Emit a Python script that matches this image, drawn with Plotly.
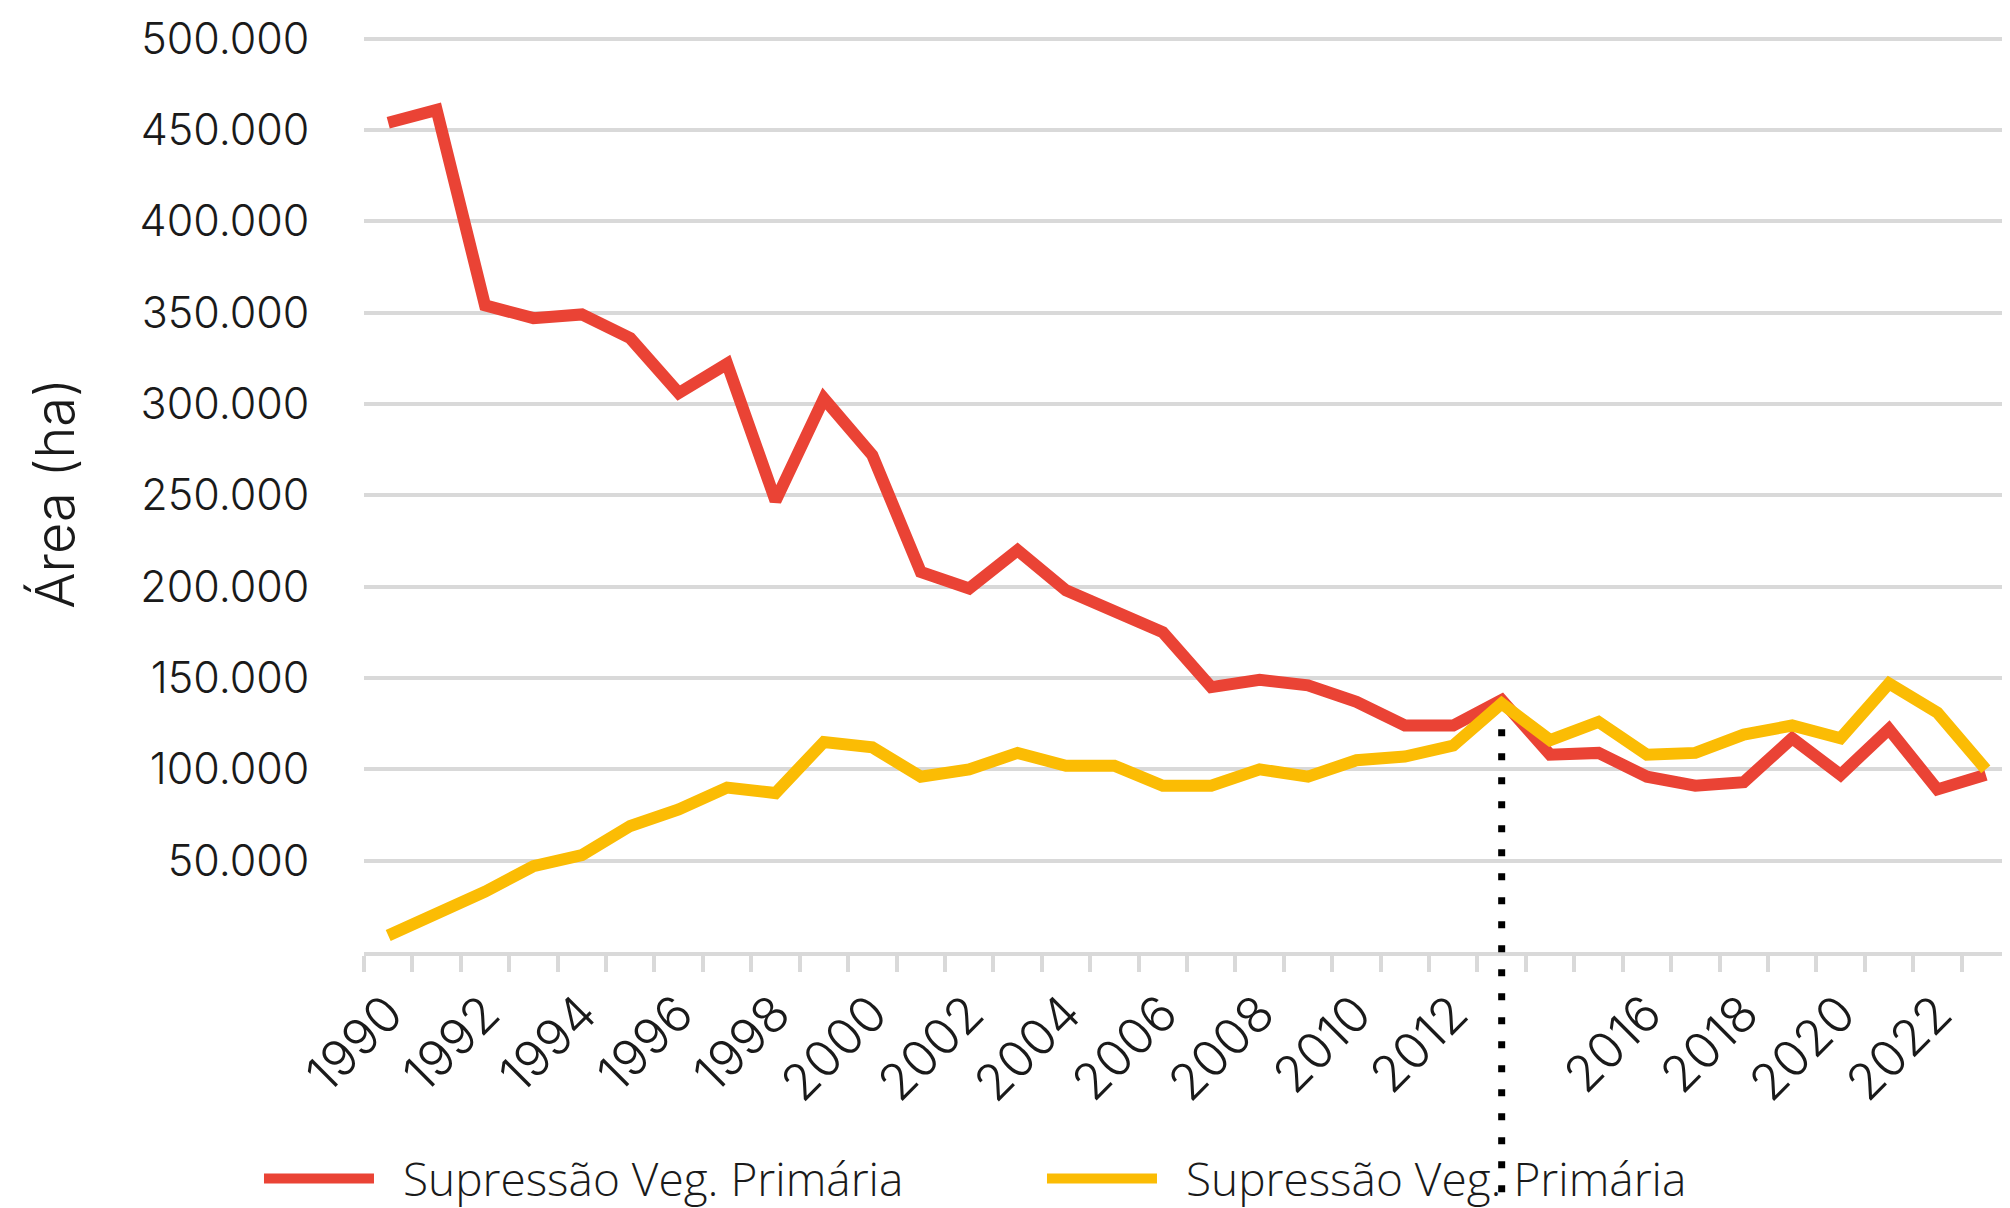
import plotly.graph_objects as go

years = list(range(1990, 2024))
supressao_primaria = [454, 461, 354, 347, 349, 336, 306, 322, 247, 303, 272, 208, 199, 220,
                      198, 186, 175, 145, 149, 146, 137, 124, 124, 138, 108, 109, 96, 91, 93,
                      117, 97, 122, 89, 97]
supressao_secundaria = [9, 21, 33, 47, 53, 69, 78, 90, 87, 115, 112, 96, 100, 109, 102, 102,
                        91, 91, 100, 96, 105, 107, 113, 136, 116, 126, 108, 109, 119, 124,
                        117, 147, 131, 100]
legend_names = ["Supressão Veg. Primária", "Supressão Veg. Primária"]
x_tick_years = [1990, 1992, 1994, 1996, 1998, 2000, 2002, 2004, 2006, 2008, 2010, 2012,
                2016, 2018, 2020, 2022]
y_ticks = [50000, 100000, 150000, 200000, 250000, 300000, 350000, 400000, 450000, 500000]
marker_year = 2013
marker_top = 122000
Y_MAX = 502000

red_vals = [v * 1000 for v in supressao_primaria]
yel_vals = [v * 1000 for v in supressao_secundaria]

RED = "#EA4335"
YEL = "#FBBC04"
GRID = "#D9D9D9"
TXT = "#1A1A1A"
FONT = "Inter"
PAD = "\u00a0\u00a0"

fig = go.Figure()
fig.add_trace(go.Scatter(x=years, y=red_vals, mode="lines", name=PAD + legend_names[0],
                         line=dict(color=RED, width=12)))
fig.add_trace(go.Scatter(x=years, y=yel_vals, mode="lines", name=PAD + legend_names[1],
                         line=dict(color=YEL, width=12)))

fig.add_shape(type="line", xref="x", yref="paper",
              x0=marker_year, x1=marker_year, y0=marker_top / Y_MAX, y1=-0.4,
              line=dict(color="black", width=7, dash="7px,17px"), layer="above")

fig.update_layout(
    width=2002, height=1200,
    margin=dict(l=356, r=0, t=27, b=256, autoexpand=False),
    paper_bgcolor="white", plot_bgcolor="white",
    separators=",.",
    font=dict(family=FONT, color=TXT, size=40, weight=300),
    showlegend=True,
    legend=dict(orientation="h", x=-0.0638, y=-0.2470, xanchor="left", yanchor="middle",
                font=dict(family="Open Sans", size=46, color=TXT, weight=300),
                itemwidth=110, entrywidth=658, entrywidthmode="pixels",
                bgcolor="rgba(0,0,0,0)"),
)

fig.update_xaxes(
    range=[1989.5, 2023.5],
    tickmode="array", tickvals=x_tick_years, ticktext=[str(y) for y in x_tick_years],
    tickangle=-45, ticks="outside", ticklen=8, tickcolor="rgba(0,0,0,0)",
    tickfont=dict(family=FONT, size=50, color=TXT, weight=300),
    showgrid=False, zeroline=False,
    showline=True, linecolor=GRID, linewidth=4,
    minor=dict(tickmode="linear", tick0=1989.5, dtick=1, ticks="outside",
               ticklen=16, tickwidth=4, tickcolor=GRID, showgrid=False),
    automargin=False,
)
fig.update_yaxes(
    range=[0, Y_MAX],
    tickmode="array", tickvals=y_ticks, tickformat=",d",
    ticks="outside", ticklen=45, tickcolor="rgba(0,0,0,0)",
    tickfont=dict(family=FONT, size=43, color=TXT, weight=300),
    showgrid=True, gridcolor=GRID, gridwidth=4, zeroline=False, showline=False,
    title=dict(text="Área (ha)", font=dict(family=FONT, size=54, color=TXT, weight=300),
               standoff=47),
    automargin=False,
)

fig.write_html("out.html")
